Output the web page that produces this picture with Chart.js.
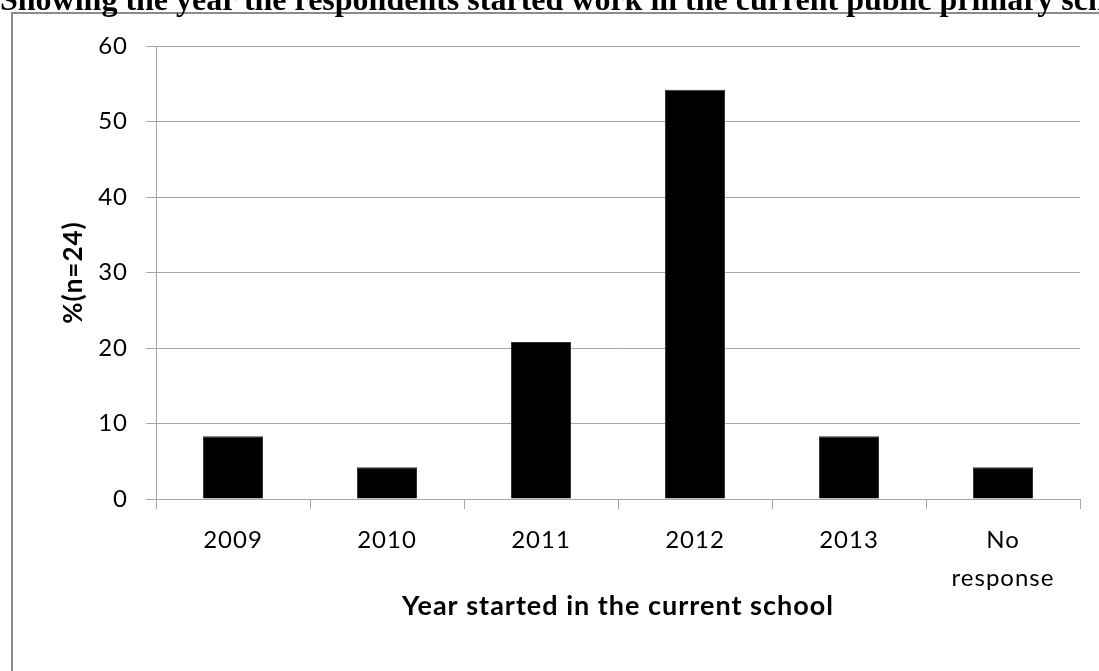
<!DOCTYPE html>
<html>
<head>
<meta charset="utf-8">
<script src="https://cdn.jsdelivr.net/npm/chart.js@4.4.0/dist/chart.umd.min.js"></script>
<style>
    html, body { margin: 0; padding: 0; background: #fff; overflow: hidden; }
    #frame { position: absolute; left: 11px; top: 12px; width: 2000px; height: 2000px;
             border-left: 2px solid #8c8c8c; border-top: 2px solid #8c8c8c; }
    #wrap { position: absolute; left: 0; top: 0; width: 1099px; height: 671px; }
    #title { position: absolute; left: 0; top: -17px; white-space: nowrap; line-height: 32px;
             font-family: "Liberation Serif", serif; font-weight: bold; font-size: 32px; color: #000; }
</style>
</head>
<body>
<div id="frame"></div>
<div id="wrap"><canvas id="yearChart"></canvas></div>
<div id="title">Showing the year the respondents started work in the current public primary school</div>
<script>
const years = ['2009', '2010', '2011', '2012', '2013', ['No', 'response']];
const percents = [8.3, 4.2, 20.8, 54.2, 8.3, 4.2];
const yTicks = [0, 10, 20, 30, 40, 50, 60];

document.addEventListener('DOMContentLoaded', function () {
    const ctx = document.getElementById('yearChart').getContext('2d');

    // texto un poco espaciado, como en el original
    const spacing = {
        id: 'spacing',
        beforeUpdate: chart => { chart.ctx.letterSpacing = '1px'; },
        beforeDraw: chart => { chart.ctx.letterSpacing = '1px'; }
    };

    new Chart(ctx, {
        type: 'bar',
        data: {
            labels: years,
            datasets: [{
                data: percents,
                backgroundColor: '#000',
                borderColor: '#333',
                borderWidth: 1,
                barPercentage: 0.39,
                categoryPercentage: 1
            }]
        },
        plugins: [spacing],
        options: {
            responsive: true,
            maintainAspectRatio: false,
            animation: false,
            layout: { padding: { top: 46, right: 19, left: 0, bottom: 0 } },
            plugins: {
                legend: { display: false },
                tooltip: { enabled: false }
            },
            scales: {
                y: {
                    min: 0,
                    max: 60,
                    afterBuildTicks: s => { s.ticks = yTicks.map(v => ({ value: v })); },
                    afterFit: s => { s.width = 156; },
                    grid: { color: '#a6a6a6', tickLength: 10 },
                    border: { color: '#a6a6a6' },
                    ticks: { color: '#000', font: { family: 'Lato', size: 24 }, padding: 18 },
                    title: { display: true, text: '%(n=24)', color: '#000',
                             font: { family: 'Lato', size: 26, weight: 'bold' }, padding: 58 }
                },
                x: {
                    afterFit: s => { s.height = 172; },
                    grid: { drawOnChartArea: false, color: '#a6a6a6', tickLength: 10 },
                    border: { color: '#a6a6a6' },
                    ticks: { color: '#000', font: { family: 'Lato', size: 24, lineHeight: 1.55 }, padding: 13, maxRotation: 0 },
                    title: { display: true, text: 'Year started in the current school', color: '#000',
                             font: { family: 'Lato', size: 27, weight: 'bold' }, padding: 49 }
                }
            }
        }
    });
});
</script>
</body>
</html>
